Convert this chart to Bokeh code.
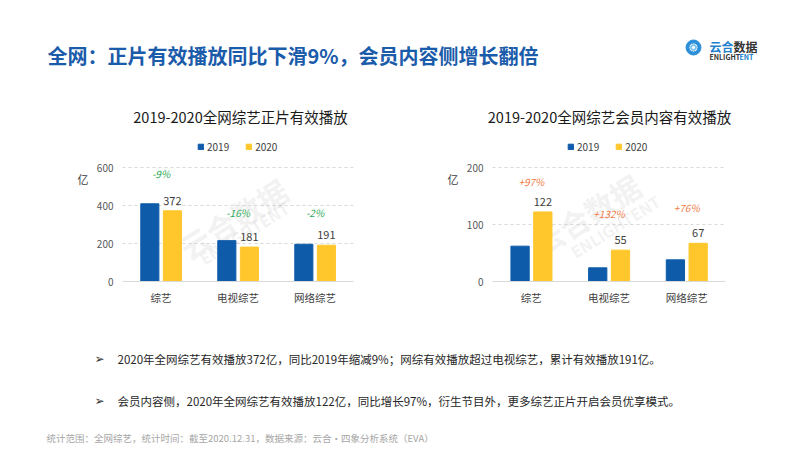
from bokeh.plotting import figure
from bokeh.models import (ColumnDataSource, Label, Legend, LegendItem, FactorRange, Range1d,
                          FixedTicker, LinearAxis)
from bokeh.transform import dodge
from bokeh.layouts import column, row
from bokeh.embed import file_html
from bokeh.resources import INLINE
from bokeh.core.properties import value

# ---------------- data ----------------
categories = ["综艺", "电视综艺", "网络综艺"]
years = ["2019", "2020"]
play_2019 = [409, 215, 196]
play_2020 = [372, 181, 191]
play_change = ["-9%", "-16%", "-2%"]
member_2019 = [62, 24, 38]
member_2020 = [122, 55, 67]
member_change = ["+97%", "+132%", "+76%"]
play_ticks = [0, 200, 400, 600]
member_ticks = [0, 100, 200]
chart_titles = ["2019-2020全网综艺正片有效播放", "2019-2020全网综艺会员内容有效播放"]
unit = "亿"

# annotation heights (layout, not data)
play_change_pos = [570, 363, 363]
member_change_pos = [175, 119, 129]

FONT = "Noto Sans CJK SC"
BLUE = "#0E5BAA"
YELLOW = "#FFC72C"
TITLE_BLUE = "#1A5BAA"

HEAD_H = 125
CH_H = 191        # chart figure height
CH_BOTTOM = 35    # space below the plotting frame
TICK_SPAN = 114   # pixels from 0 to the top tick
FOOT_H = 451 - HEAD_H - CH_H


def blank(width, height):
    p = figure(width=width, height=height, x_range=Range1d(0, width), y_range=Range1d(0, height),
               output_backend="svg", toolbar_location=None, min_border=0)
    p.axis.visible = False
    p.grid.visible = False
    p.outline_line_color = None
    return p


def chart(v19, v20, change, change_pos, change_color, ymax, ticks, width, bl, br, wm):
    frame_h = CH_H - CH_BOTTOM
    yend = ymax * frame_h / TICK_SPAN
    src = ColumnDataSource(dict(cat=categories, v19=v19, v20=v20,
                                lab=[str(v) for v in v20], chg=change, cpos=change_pos))
    p = figure(width=width, height=CH_H, x_range=FactorRange(*categories),
               y_range=Range1d(0, yend), output_backend="svg", toolbar_location=None,
               min_border_left=bl, min_border_right=br, min_border_top=0,
               min_border_bottom=CH_BOTTOM)
    p.outline_line_color = None
    p.xgrid.visible = False
    p.ygrid.grid_line_color = "#D9D9D9"
    p.ygrid.grid_line_dash = "3 3"
    p.ygrid.ticker = FixedTicker(ticks=ticks)
    p.yaxis.ticker = FixedTicker(ticks=ticks)
    p.yaxis.axis_line_color = None
    p.yaxis.major_tick_line_color = None
    p.yaxis.minor_tick_line_color = None
    p.yaxis.major_tick_out = 0
    p.yaxis.minor_tick_out = 0
    p.yaxis.major_label_standoff = 9
    p.yaxis.major_label_text_font = FONT
    p.yaxis.major_label_text_font_size = "10px"
    p.yaxis.major_label_text_color = "#595959"

    # unit label "亿" as an outer left axis carrying a single labelled tick
    upos = int(round(ymax * 0.9))
    ua = LinearAxis(ticker=FixedTicker(ticks=[upos]), major_label_overrides={upos: unit},
                    axis_line_color=None, major_tick_line_color=None,
                    minor_tick_line_color=None, major_tick_out=0, minor_tick_out=0,
                    major_label_standoff=5,
                    major_label_text_font=FONT, major_label_text_font_size="11px",
                    major_label_text_color="#404040")
    p.add_layout(ua, "left")

    p.xaxis.axis_line_color = "#D9D9D9"
    p.xaxis.major_tick_line_color = None
    p.xaxis.minor_tick_line_color = None
    p.xaxis.major_tick_out = 0
    p.xaxis.minor_tick_out = 0
    p.xaxis.major_label_standoff = 8
    p.xaxis.major_label_text_font = FONT
    p.xaxis.major_label_text_font_size = "10.5px"
    p.xaxis.major_label_text_color = "#404040"

    # watermark
    p.add_layout(Label(x=wm[0], y=wm[1], text="云合数据", angle=32, angle_units="deg",
                       text_font=FONT, text_font_style="bold", text_font_size="30px",
                       text_color="#BBBBBB", text_alpha=0.2, text_align="center",
                       text_baseline="middle", level="underlay"))
    p.add_layout(Label(x=wm[2], y=wm[3], text="ENLIGHTENT", angle=32, angle_units="deg",
                       text_font=FONT, text_font_style="bold", text_font_size="16px",
                       text_color="#BBBBBB", text_alpha=0.2, text_align="center",
                       text_baseline="middle", level="underlay"))

    r1 = p.vbar(x=dodge("cat", -0.145, range=p.x_range), top="v19", width=0.235,
                source=src, color=BLUE)
    r2 = p.vbar(x=dodge("cat", 0.148, range=p.x_range), top="v20", width=0.235,
                source=src, color=YELLOW)
    p.text(x=dodge("cat", 0.148, range=p.x_range), y="v20", text="lab", source=src,
           text_align="center", text_baseline="bottom", y_offset=-6,
           text_font=value(FONT), text_font_size="11px", text_color="#404040")
    p.text(x="cat", y="cpos", text="chg", source=src, text_align="center",
           text_baseline="middle", text_font=value(FONT), text_font_size="10px",
           text_font_style="italic", text_color=change_color)

    legend = Legend(items=[LegendItem(label=years[0], renderers=[r1]),
                           LegendItem(label=years[1], renderers=[r2])],
                    orientation="horizontal", location=(75, 127),
                    glyph_width=7, glyph_height=7, label_standoff=3, spacing=16,
                    padding=0, margin=0, label_height=12,
                    label_text_font=FONT, label_text_font_size="10px",
                    label_text_color="#404040",
                    border_line_color=None, background_fill_alpha=0)
    p.add_layout(legend)
    return p


left = chart(play_2019, play_2020, play_change, play_change_pos, "#2BAA55", 600,
             play_ticks, 400, 122, 47, (1.44, 331, 1.58, 256))
right = chart(member_2019, member_2020, member_change, member_change_pos, "#F07A45", 200,
              member_ticks, 402, 92, 77, (1.21, 118, 1.58, 97))

# ---------------- header ----------------
head = blank(802, HEAD_H)
head.add_layout(Label(x=47, y=70, text="全网：正片有效播放同比下滑9%，会员内容侧增长翻倍",
                      text_font=FONT, text_font_style="bold", text_font_size="20px",
                      text_color=TITLE_BLUE, text_baseline="middle"))
head.annulus(x=[693], y=[78], inner_radius=4.5, outer_radius=7.5, color="#2B8FD9")
head.annulus(x=[693], y=[78], inner_radius=2, outer_radius=3, color="#7CC3F0")
head.add_layout(Label(x=709, y=79, text="云合", text_font=FONT, text_font_style="bold",
                      text_font_size="12px", text_color="#2280CF", text_baseline="middle"))
head.add_layout(Label(x=733, y=79, text="数据", text_font=FONT, text_font_style="bold",
                      text_font_size="12px", text_color="#333333", text_baseline="middle"))
head.add_layout(Label(x=709, y=69, text="ENLIGHT", text_font=FONT, text_font_style="bold",
                      text_font_size="7px", text_color="#333333", text_baseline="middle"))
head.add_layout(Label(x=739, y=69, text="ENT", text_font=FONT, text_font_style="bold",
                      text_font_size="7px", text_color="#2280CF", text_baseline="middle"))
for cx, t in zip([240, 609], chart_titles):
    head.add_layout(Label(x=cx, y=9.5, text=t, text_font=FONT, text_font_size="14.5px",
                          text_color="#1A1A1A", text_align="center", text_baseline="middle"))

# ---------------- footer ----------------
foot = blank(802, FOOT_H)
bullets = ["2020年全网综艺有效播放372亿，同比2019年缩减9%；网综有效播放超过电视综艺，累计有效播放191亿。",
           "会员内容侧，2020年全网综艺有效播放122亿，同比增长97%，衍生节目外，更多综艺正片开启会员优享模式。"]
for yy, txt in zip([93, 51], bullets):
    foot.add_layout(Label(x=99, y=yy, text="➢", text_font="DejaVu Sans",
                          text_font_size="12px", text_color="#333333",
                          text_align="center", text_baseline="middle"))
    foot.add_layout(Label(x=117, y=yy, text=txt, text_font=FONT, text_font_size="11.5px",
                          text_color="#262626", text_baseline="middle"))
foot.add_layout(Label(x=46, y=13.5, text="统计范围：全网综艺，统计时间：截至2020.12.31，数据来源：云合·四象分析系统（EVA）",
                      text_font=FONT, text_font_size="9.5px", text_color="#A6A6A6",
                      text_baseline="middle"))

page = column(head, row(left, right), foot)
open("out.html", "w").write(file_html(page, INLINE))
